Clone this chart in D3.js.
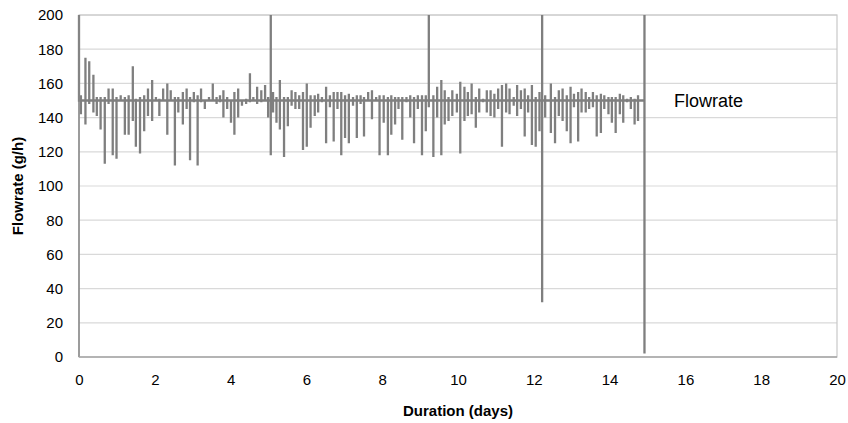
<!DOCTYPE html>
<html><head><meta charset="utf-8">
<script src="https://cdn.jsdelivr.net/npm/d3@7"></script>
<style>body{margin:0;background:#fff}svg{display:block}</style>
</head><body>
<script>
// ---- data ----
const baseline = 150;
const startValue = 200;
const spikeTimes = [0.05,0.17,0.27,0.38,0.47,0.57,0.68,0.78,0.89,0.99,1.10,1.21,1.31,1.42,1.50,1.61,1.72,1.82,1.93,2.03,2.12,2.22,2.33,2.42,
2.53,2.62,2.74,2.84,2.93,3.03,3.13,3.22,3.32,3.43,3.53,3.63,3.72,3.81,3.91,4.01,4.10,4.20,4.30,4.41,4.51,4.60,4.70,4.81,
4.91,4.99,5.06,5.12,5.21,5.30,5.41,5.51,5.61,5.71,5.81,5.91,6.01,6.11,6.22,6.31,6.41,6.52,6.62,6.72,6.82,6.92,7.02,7.12,7.23,7.33,
7.43,7.52,7.63,7.73,7.84,7.93,8.04,8.15,8.24,8.34,8.43,8.53,8.64,8.74,8.84,8.94,9.05,9.15,9.23,9.35,9.45,9.56,9.65,9.75,9.85,
9.97,10.06,10.17,10.26,10.36,10.47,10.56,10.66,10.76,10.86,10.96,11.06,11.16,11.27,11.36,11.47,11.56,11.66,11.76,11.85,11.95,12.05,12.15,12.22,12.30,
12.45,12.56,12.66,12.76,12.87,12.97,13.06,13.17,13.26,13.37,13.46,13.56,13.66,13.77,13.86,13.97,14.06,14.16,14.27,14.36,14.46,14.56,14.66,14.75,14.92];
const spikeHigh = [153,175,173,165,152,152,152,157,157,152,153,152,153,170,151,152,153,157,162,152,151,157,160,156,
152,152,155,157,152,155,153,157,150,152,160,152,153,156,152,150,155,157,150,151,166,152,158,156,
159,152,200,155,152,162,152,152,156,155,153,155,160,153,153,154,152,158,153,155,155,155,153,154,152,153,
153,152,155,156,152,153,153,152,153,152,152,152,152,153,152,153,153,153,200,153,158,162,156,152,156,
154,161,158,155,160,152,157,151,156,156,154,157,159,160,157,152,159,156,157,153,159,152,155,200,153,
160,152,156,157,153,158,154,155,157,155,152,155,153,154,153,152,152,152,154,153,151,152,151,153,200];
const spikeLow = [142,136,148,143,141,133,113,148,118,116,150,130,130,138,123,119,132,141,138,150,141,150,130,150,
112,143,136,145,115,149,112,149,145,150,150,148,149,140,145,137,130,140,147,148,149,150,148,149,
150,140,118,143,137,133,117,135,147,145,145,121,123,134,141,143,149,125,146,126,145,118,128,125,147,128,
148,129,150,139,150,118,137,118,130,136,145,127,149,140,125,145,118,132,146,117,140,118,136,138,141,
143,119,138,141,142,134,143,149,143,141,140,145,123,143,142,147,141,145,129,143,124,123,132,32,140,
131,125,141,138,132,125,146,126,143,143,145,146,129,131,145,142,137,131,142,137,149,145,136,138,2];
const xTicks = [0,2,4,6,8,10,12,14,16,18,20];
const yTicks = [0,20,40,60,80,100,120,140,160,180,200];
const seriesName = "Flowrate";
const xTitle = "Duration (days)";
const yTitle = "Flowrate (g/h)";

// ---- layout ----
const W = 848, H = 423;
const L = 79, R = 837, T = 15, B = 357;
const svg = d3.select("body").append("svg").attr("width", W).attr("height", H);
const x = d3.scaleLinear().domain([0, 20]).range([L, R]);
const y = d3.scaleLinear().domain([0, 200]).range([B, T]);

// gridlines
svg.append("g").selectAll("line").data(yTicks.filter(d => d > 0)).join("line")
  .attr("x1", L).attr("x2", R).attr("y1", d => y(d)).attr("y2", d => y(d))
  .attr("stroke", "#d9d9d9").attr("stroke-width", 1.2);
// plot border
svg.append("rect").attr("x", L).attr("y", T).attr("width", R - L).attr("height", B - T)
  .attr("fill", "none").attr("stroke", "#c8c8c8").attr("stroke-width", 1.2);

// line points
const pts = [[0, startValue], [0, baseline]];
spikeTimes.forEach((t, i) => {
  pts.push([t, baseline], [t, spikeHigh[i]], [t, spikeLow[i]], [t, baseline]);
});
pts.pop();
const line = d3.line().x(d => x(d[0])).y(d => y(d[1]));
svg.append("path").attr("d", line(pts)).attr("fill", "none")
  .attr("stroke", "#7f7f7f").attr("stroke-width", 2.3).attr("stroke-linejoin", "miter");

// axes lines
svg.append("line").attr("x1", L).attr("x2", L).attr("y1", T).attr("y2", B)
  .attr("stroke", "#868686").attr("stroke-width", 1.5);
svg.append("line").attr("x1", L).attr("x2", R).attr("y1", B).attr("y2", B)
  .attr("stroke", "#a6a6a6").attr("stroke-width", 1.5);

// axes labels
const xAxis = d3.axisBottom(x).tickValues(xTicks).tickSize(0).tickPadding(17).tickFormat(d3.format("d"));
const gx = svg.append("g").attr("transform", `translate(0,${B})`).call(xAxis);
gx.select(".domain").remove();
gx.selectAll("text").attr("font-family", "Liberation Sans, Arial, sans-serif").attr("font-size", 15).attr("fill", "#000");
const yAxis = d3.axisLeft(y).tickValues(yTicks).tickSize(0).tickPadding(16).tickFormat(d3.format("d"));
const gy = svg.append("g").attr("transform", `translate(${L},0)`).call(yAxis);
gy.select(".domain").remove();
gy.selectAll("text").attr("font-family", "Liberation Sans, Arial, sans-serif").attr("font-size", 15).attr("fill", "#000");

// titles
svg.append("text").attr("x", (L + R) / 2).attr("y", 416).attr("text-anchor", "middle")
  .attr("font-family", "Liberation Sans, Arial, sans-serif").attr("font-weight", "bold").attr("font-size", 15)
  .text(xTitle);
svg.append("text").attr("transform", `translate(23,${(T + B) / 2}) rotate(-90)`).attr("text-anchor", "middle")
  .attr("font-family", "Liberation Sans, Arial, sans-serif").attr("font-weight", "bold").attr("font-size", 15)
  .text(yTitle);

// legend
svg.append("text").attr("x", 674).attr("y", 107)
  .attr("font-family", "Liberation Sans, Arial, sans-serif").attr("font-size", 18).attr("fill", "#000")
  .text(seriesName);
</script>
</body></html>
